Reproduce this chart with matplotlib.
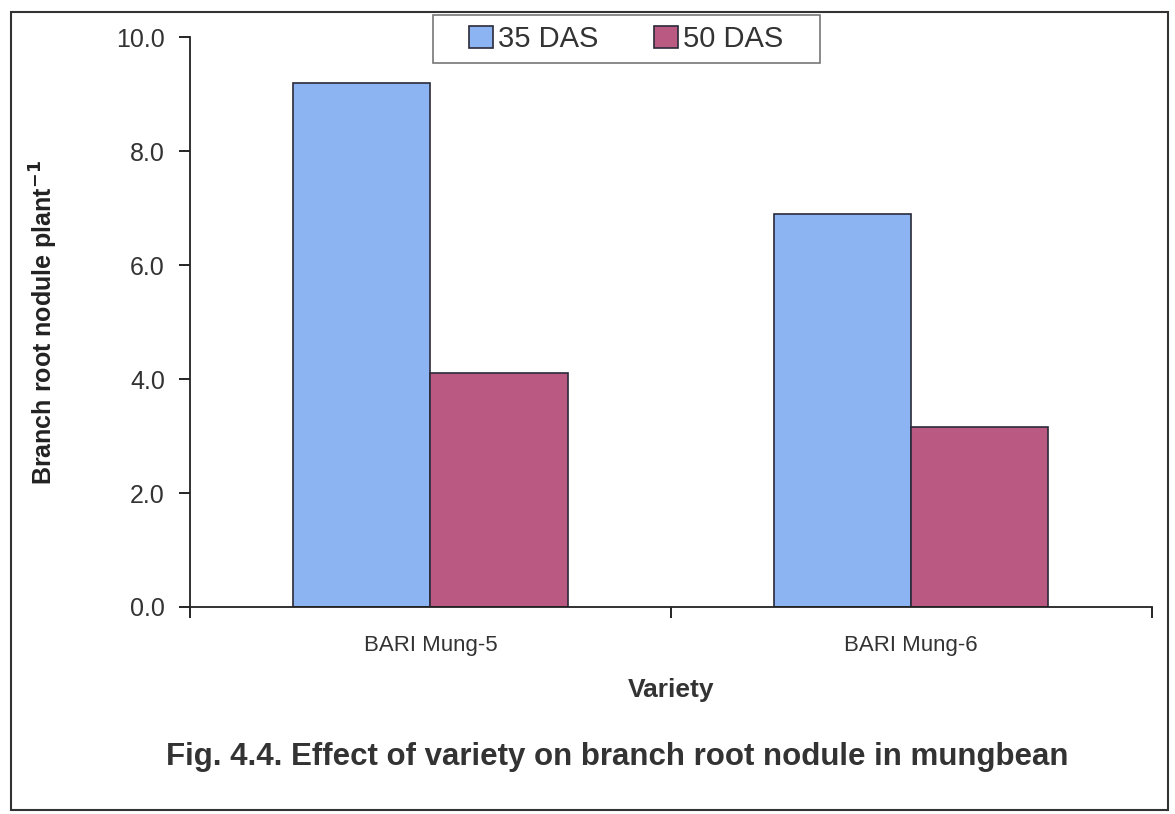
import matplotlib.pyplot as plt
import numpy as np
from matplotlib.patches import Rectangle

plt.rcParams['font.family'] = ['Liberation Sans', 'DejaVu Sans']

varieties = ["BARI Mung-5", "BARI Mung-6"]
das35 = [9.2, 6.9]
das50 = [4.1, 3.15]
series_names = ["35 DAS", "50 DAS"]

fig = plt.figure(figsize=(11.75, 8.14), dpi=100)
ax = fig.add_axes([0.1617, 0.2543, 0.8183, 0.7002])

x = np.arange(len(varieties))
w = 1 / 3.5
ax.bar(x - w / 2, das35, w, color="#8DB4F2", edgecolor="#2a2a3a", linewidth=1.2, label=series_names[0])
ax.bar(x + w / 2, das50, w, color="#BA5A82", edgecolor="#2a2a3a", linewidth=1.2, label=series_names[1])

ax.set_xlim(-0.5, len(varieties) - 0.5)
ax.set_ylim(0, 10)
yt = np.arange(0, 10.1, 2)
ax.set_yticks(yt)
ax.set_yticklabels(["%.1f" % v for v in yt], fontsize=18, color="#333333")
ax.tick_params(axis="y", length=8, width=1.2, pad=10)

# tick marks sit between the categories, labels in the middle
ax.set_xticks(x)
ax.set_xticklabels(varieties, fontsize=16, color="#333333")
ax.tick_params(axis="x", which="major", length=0, pad=20)
ax.set_xticks(np.arange(-0.5, len(varieties)), minor=True)
ax.tick_params(axis="x", which="minor", length=8, width=1.2)

for s in ["top", "right"]:
    ax.spines[s].set_visible(False)
for s in ["left", "bottom"]:
    ax.spines[s].set_linewidth(1.3)
    ax.spines[s].set_color("#222222")

ax.set_xlabel("Variety", fontsize=19, fontweight="bold", color="#333333", va="center")
ax.xaxis.set_label_coords(0.5, -0.146)
ax.set_ylabel("Branch root nodule plant$^{\\mathbf{-1}}$", fontsize=18, fontweight="bold",
              color="#222222", va="center")
ax.yaxis.set_label_coords(-0.152, 0.50)

# legend box drawn separately so its padding can be wider than tall
fig.patches.append(Rectangle((433 / 1175, 1 - 63 / 814), 387 / 1175, 48 / 814,
                             transform=fig.transFigure, facecolor="white",
                             edgecolor="#777777", linewidth=1.2, zorder=5))
leg = fig.legend(loc="center", bbox_to_anchor=(626.5 / 1175, 1 - 39 / 814), ncol=2, fontsize=21,
                 frameon=False, handlelength=0.8, handleheight=0.75, handletextpad=0.2,
                 columnspacing=1.9, borderpad=0.0, borderaxespad=0.0, labelcolor="#333333")
leg.set_zorder(6)

fig.text(0.525, 0.070, "Fig. 4.4. Effect of variety on branch root nodule in mungbean",
         ha="center", va="center", fontsize=22.5, fontweight="bold", color="#333333")

fig.patches.append(Rectangle((0.009, 0.005), 0.985, 0.98, transform=fig.transFigure,
                             fill=False, edgecolor="#333333", linewidth=1.5))

plt.savefig("out.png")
